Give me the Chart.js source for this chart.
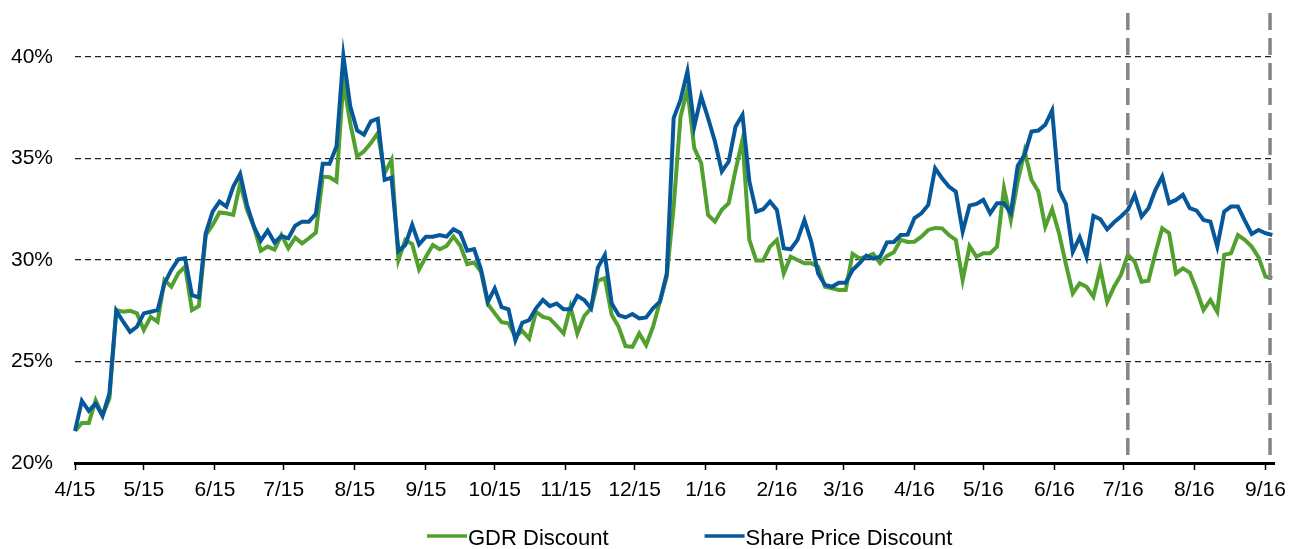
<!DOCTYPE html>
<html>
<head>
<meta charset="utf-8">
<script src="https://cdn.jsdelivr.net/npm/chart.js@4.4.1/dist/chart.umd.min.js"></script>
<style>
  html, body { margin: 0; padding: 0; background: #fff; }
  #chart { display: block; }
</style>
</head>
<body>
<canvas id="chart" width="1294" height="549"></canvas>
<script>
// sample dates, every 3 days
const dates = [
    '2015-04-01','2015-04-04','2015-04-07','2015-04-10','2015-04-13','2015-04-16','2015-04-19','2015-04-22','2015-04-25','2015-04-28',
    '2015-05-01','2015-05-04','2015-05-07','2015-05-10','2015-05-13','2015-05-16','2015-05-19','2015-05-22','2015-05-25','2015-05-28','2015-05-31',
    '2015-06-03','2015-06-06','2015-06-09','2015-06-12','2015-06-15','2015-06-18','2015-06-21','2015-06-24','2015-06-27','2015-06-30',
    '2015-07-03','2015-07-06','2015-07-09','2015-07-12','2015-07-15','2015-07-18','2015-07-21','2015-07-24','2015-07-27','2015-07-30',
    '2015-08-02','2015-08-05','2015-08-08','2015-08-11','2015-08-14','2015-08-17','2015-08-20','2015-08-23','2015-08-26','2015-08-29',
    '2015-09-01','2015-09-04','2015-09-07','2015-09-10','2015-09-13','2015-09-16','2015-09-19','2015-09-22','2015-09-25','2015-09-28',
    '2015-10-01','2015-10-04','2015-10-07','2015-10-10','2015-10-13','2015-10-16','2015-10-19','2015-10-22','2015-10-25','2015-10-28','2015-10-31',
    '2015-11-03','2015-11-06','2015-11-09','2015-11-12','2015-11-15','2015-11-18','2015-11-21','2015-11-24','2015-11-27','2015-11-30',
    '2015-12-03','2015-12-06','2015-12-09','2015-12-12','2015-12-15','2015-12-18','2015-12-21','2015-12-24','2015-12-27','2015-12-30',
    '2016-01-02','2016-01-05','2016-01-08','2016-01-11','2016-01-14','2016-01-17','2016-01-20','2016-01-23','2016-01-26','2016-01-29',
    '2016-02-01','2016-02-04','2016-02-07','2016-02-10','2016-02-13','2016-02-16','2016-02-19','2016-02-22','2016-02-25','2016-02-28',
    '2016-03-02','2016-03-05','2016-03-08','2016-03-11','2016-03-14','2016-03-17','2016-03-20','2016-03-23','2016-03-26','2016-03-29',
    '2016-04-01','2016-04-04','2016-04-07','2016-04-10','2016-04-13','2016-04-16','2016-04-19','2016-04-22','2016-04-25','2016-04-28',
    '2016-05-01','2016-05-04','2016-05-07','2016-05-10','2016-05-13','2016-05-16','2016-05-19','2016-05-22','2016-05-25','2016-05-28','2016-05-31',
    '2016-06-03','2016-06-06','2016-06-09','2016-06-12','2016-06-15','2016-06-18','2016-06-21','2016-06-24','2016-06-27','2016-06-30',
    '2016-07-03','2016-07-06','2016-07-09','2016-07-12','2016-07-15','2016-07-18','2016-07-21','2016-07-24','2016-07-27','2016-07-30',
    '2016-08-02','2016-08-05','2016-08-08','2016-08-11','2016-08-14','2016-08-17','2016-08-20','2016-08-23','2016-08-26','2016-08-29',
    '2016-09-01','2016-09-04'
];

// GDR Discount (%)
const gdrDiscount = [
    21.58,21.97,21.97,23.09,22.35,23.17,27.53,27.45,27.50,27.37,
    26.55,27.20,26.96,29.01,28.68,29.34,29.67,27.53,27.73,31.23,31.73,
    32.34,32.30,32.22,33.78,32.47,31.64,30.46,30.66,30.51,31.23,
    30.58,31.10,30.82,31.07,31.35,34.11,34.08,33.87,38.80,36.74,
    35.10,35.35,35.76,36.25,34.28,34.93,30.00,30.99,30.79,29.54,
    30.16,30.74,30.53,30.69,31.15,30.70,29.80,29.88,29.42,27.83,
    27.37,26.94,26.88,26.22,26.51,26.13,27.45,27.20,27.11,26.76,26.38,
    27.70,26.38,27.24,27.62,28.98,29.10,27.29,26.71,25.76,25.72,
    26.38,25.81,26.71,27.94,29.18,32.63,37.07,38.39,35.51,34.77,
    32.22,31.89,32.47,32.80,34.44,35.92,30.99,29.97,29.97,30.66,
    30.99,29.34,30.16,30.00,29.84,29.84,29.67,28.68,28.60,28.52,
    28.52,30.30,30.08,30.16,30.30,29.84,30.20,30.38,30.99,30.89,
    30.90,31.15,31.48,31.58,31.56,31.23,30.99,29.01,30.69,30.16,
    30.33,30.33,30.66,33.54,31.97,33.87,35.35,33.95,33.37,31.64,32.50,
    31.32,29.80,28.36,28.85,28.68,28.19,29.59,27.94,28.68,29.26,
    30.25,29.92,28.93,28.98,30.33,31.56,31.32,29.34,29.59,29.38,
    28.52,27.53,28.03,27.45,30.25,30.33,31.23,30.99,30.66,30.13,
    29.18,29.10
];

// Share Price Discount (%)
const sharePriceDiscount = [
    21.58,23.06,22.57,22.93,22.32,23.42,27.50,26.96,26.46,26.71,
    27.37,27.45,27.53,28.85,29.51,30.03,30.08,28.27,28.16,31.32,32.38,
    32.88,32.63,33.62,34.24,32.71,31.64,30.95,31.45,30.86,31.18,
    31.07,31.69,31.89,31.89,32.27,34.74,34.74,35.59,40.05,37.57,
    36.38,36.17,36.83,36.96,33.95,34.06,30.44,30.74,31.73,30.77,
    31.15,31.15,31.23,31.15,31.51,31.33,30.46,30.54,29.54,27.94,
    28.60,27.68,27.57,26.05,26.91,27.04,27.62,28.03,27.73,27.86,27.57,
    27.57,28.24,28.03,27.62,29.64,30.25,27.86,27.29,27.17,27.34,
    27.12,27.17,27.62,27.94,29.34,36.99,37.89,39.29,36.58,38.06,
    36.99,35.84,34.36,34.85,36.58,37.15,33.87,32.38,32.50,32.88,
    32.47,30.58,30.53,30.99,31.97,30.90,29.34,28.77,28.68,28.88,
    28.88,29.51,29.84,30.21,30.07,30.16,30.87,30.89,31.23,31.25,
    32.07,32.30,32.71,34.52,34.03,33.62,33.37,31.40,32.68,32.76,
    32.96,32.30,32.80,32.80,32.30,34.64,35.18,36.33,36.38,36.66,37.37,
    33.45,32.75,30.40,31.12,30.16,32.17,32.01,31.51,31.86,32.14,
    32.47,33.21,32.14,32.55,33.45,34.11,32.80,32.96,33.21,32.55,
    32.43,31.97,31.89,30.66,32.38,32.63,32.63,31.94,31.28,31.48,
    31.32,31.23
];

const seriesNames = ['GDR Discount', 'Share Price Discount'];
const seriesColors = ['#52a02e', '#07589a'];

const tickLabels = ['4/15','5/15','6/15','7/15','8/15','9/15','10/15','11/15','12/15',
    '1/16','2/16','3/16','4/16','5/16','6/16','7/16','8/16','9/16'];
const yTicks = [20, 25, 30, 35, 40];

// gray dashed markers
const markerDates = ['2016-07-03', '2016-09-03'];

const startDate = '2015-04-01';
const endDate = '2016-09-05';

const FONT = "'Liberation Sans', Arial, sans-serif";

function dayOf(iso) {
    const p = iso.split('-').map(Number);
    const s = startDate.split('-').map(Number);
    return (Date.UTC(p[0], p[1] - 1, p[2]) - Date.UTC(s[0], s[1] - 1, s[2])) / 86400000;
}

function dayOfLabel(label) {
    const p = label.split('/').map(Number);
    const m = String(p[0]).padStart(2, '0');
    return dayOf('20' + p[1] + '-' + m + '-01');
}

function points(values) {
    const arr = [];
    for (let i = 0; i < dates.length; i++) {
        arr.push({x: dayOf(dates[i]), y: values[i]});
    }
    return arr;
}

const markerPlugin = {
    id: 'markers',
    afterDatasetsDraw(chart) {
        const ctx = chart.ctx;
        const xs = chart.scales.x;
        ctx.save();
        ctx.strokeStyle = '#858585';
        ctx.lineWidth = 3.5;
        ctx.setLineDash([17, 8]);
        markerDates.forEach(d => {
            const x = xs.getPixelForValue(dayOf(d));
            ctx.beginPath();
            ctx.moveTo(x, 13);
            ctx.lineTo(x, chart.chartArea.bottom);
            ctx.stroke();
        });
        ctx.restore();
    }
};

const legendPlugin = {
    id: 'lineLegend',
    afterDraw(chart) {
        const ctx = chart.ctx;
        const y = 539;
        let x = 427;
        ctx.save();
        ctx.font = '22px ' + FONT;
        ctx.textBaseline = 'middle';
        ctx.fillStyle = '#000';
        for (let i = 0; i < seriesNames.length; i++) {
            ctx.strokeStyle = seriesColors[i];
            ctx.lineWidth = 3.5;
            ctx.beginPath();
            ctx.moveTo(x, y - 3);
            ctx.lineTo(x + 40, y - 3);
            ctx.stroke();
            ctx.fillText(seriesNames[i], x + 41, y);
            x += 41 + ctx.measureText(seriesNames[i]).width + 96;
        }
        ctx.restore();
    }
};

const data = {
    datasets: [{
        label: seriesNames[0],
        data: points(gdrDiscount),
        borderColor: seriesColors[0],
        backgroundColor: seriesColors[0],
        borderWidth: 4,
        pointRadius: 0,
        tension: 0,
        clip: false,
        order: 1
    }, {
        label: seriesNames[1],
        data: points(sharePriceDiscount),
        borderColor: seriesColors[1],
        backgroundColor: seriesColors[1],
        borderWidth: 4,
        pointRadius: 0,
        tension: 0,
        clip: false,
        order: 0
    }]
};

const config = {
    type: 'line',
    data: data,
    options: {
        responsive: false,
        animation: false,
        events: [],
        layout: {
            padding: {top: 57, right: 16, left: 0, bottom: 0}
        },
        plugins: {
            legend: {display: false},
            tooltip: {enabled: false}
        },
        scales: {
            x: {
                type: 'linear',
                min: 0,
                max: dayOf(endDate),
                afterBuildTicks: (scale) => {
                    scale.ticks = tickLabels.map(l => ({value: dayOfLabel(l)}));
                },
                afterFit: (scale) => { scale.height = 86; },
                ticks: {
                    autoSkip: false,
                    maxRotation: 0,
                    padding: 8,
                    color: '#000',
                    font: {family: FONT, size: 21},
                    callback: (v) => tickLabels.find(l => dayOfLabel(l) === v)
                },
                grid: {
                    drawOnChartArea: false,
                    drawTicks: true,
                    tickLength: 7,
                    tickColor: '#000',
                    tickWidth: 1.5
                },
                border: {display: true, color: '#000', width: 3}
            },
            y: {
                min: 20,
                max: 40,
                afterBuildTicks: (scale) => {
                    scale.ticks = yTicks.map(v => ({value: v}));
                },
                afterFit: (scale) => { scale.width = 75; },
                ticks: {
                    padding: 22,
                    color: '#000',
                    font: {family: FONT, size: 21},
                    callback: (v) => v + '%'
                },
                grid: {
                    drawTicks: false,
                    color: '#222',
                    lineWidth: 1.3
                },
                border: {display: false, dash: [6, 4]}
            }
        }
    },
    plugins: [markerPlugin, legendPlugin]
};

const ctx = document.getElementById('chart');
new Chart(ctx, config);
</script>
</body>
</html>
